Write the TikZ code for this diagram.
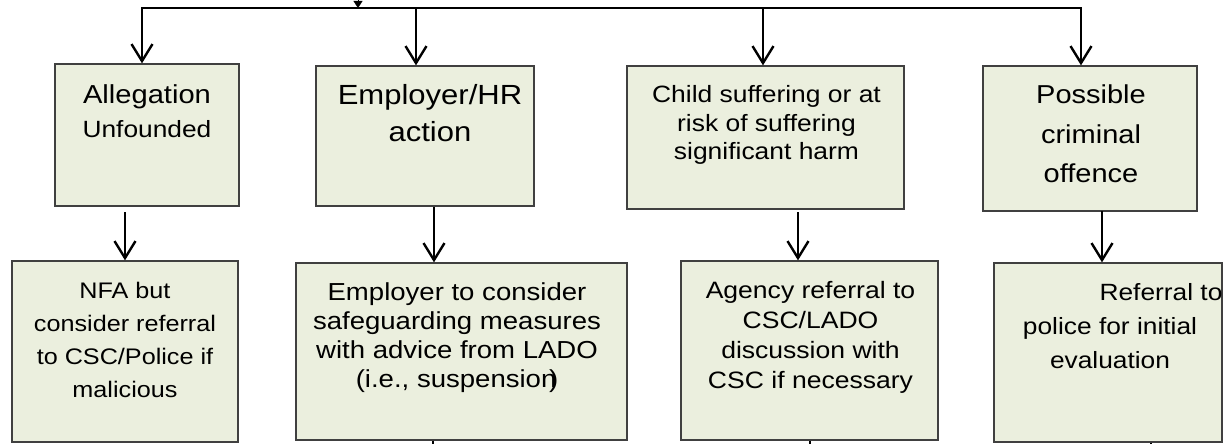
\documentclass[tikz,border=0pt]{standalone}
\usepackage{fontspec}
\setmainfont{Liberation Sans}[FakeStretch=1.12]
\usetikzlibrary{arrows.meta}
\definecolor{boxFill}{HTML}{EBEFDE}
\definecolor{boxLine}{HTML}{404040}

\begin{document}
\begin{tikzpicture}[x=1pt, y=-1pt,
  box/.style={draw=boxLine, fill=boxFill, line width=1.3pt, inner sep=0pt},
  txt/.style={align=center, inner sep=0pt},
  link/.style={line width=2.4pt},
  barb/.tip={Straight Barb[length=17pt, width=21pt]},
  arr/.style={link, -barb},
]
  \useasboundingbox (0,0) rectangle (1224,444);

  % outcome boxes
  \node[box, minimum width=184pt, minimum height=142pt] (unfounded) at (147,135) {};
  \node[box, minimum width=218pt, minimum height=140pt] (hraction) at (425,136) {};
  \node[box, minimum width=277pt, minimum height=143pt] (harm) at (765.5,137.5) {};
  \node[box, minimum width=214pt, minimum height=145pt] (criminal) at (1090,138.5) {};

  \node[txt, font=\fontsize{23.5}{34}\selectfont] (unfounded-t) at (147,111)
    {{\fontsize{26}{34}\selectfont Allegation}\\Unfounded};
  \node[txt, font=\fontsize{27.7}{37}\selectfont] (hraction-t) at (430,113.5)
    {Employer/HR\\action};
  \node[txt, font=\fontsize{23.6}{28.5}\selectfont] (harm-t) at (766.5,125)
    {Child suffering or at\\risk of suffering\\significant harm};
  \node[txt, font=\fontsize{25.9}{39.5}\selectfont] (criminal-t) at (1091,134)
    {Possible\\criminal\\offence};

  % action boxes
  \node[box, minimum width=226pt, minimum height=181pt] (nfa) at (125,351.5) {};
  \node[box, minimum width=331pt, minimum height=177pt] (safeguard) at (461.5,351.5) {};
  \node[box, minimum width=257pt, minimum height=179pt] (agency) at (809.5,350.5) {};
  \node[box, minimum width=228pt, minimum height=179pt] (police) at (1108,352.5) {};

  \node[txt, font=\fontsize{22.5}{33}\selectfont] (nfa-t) at (125,340)
    {NFA but\\consider referral\\to CSC/Police if\\malicious};
  \node[txt, font=\fontsize{24.6}{29}\selectfont] (safeguard-t) at (457,338)
    {Employer to consider\\safeguarding measures\\with advice from LADO\\(i.e., suspension\kern-.3em)};
  \node[txt, font=\fontsize{23.7}{30}\selectfont] (agency-t) at (810.5,337.5)
    {Agency referral to\\CSC/LADO\\discussion with\\CSC if necessary};
  \node[txt, font=\fontsize{23.5}{34}\selectfont] (police-t) at (1110,326)
    {\hspace*{102pt}Referral to\\police for initial\\evaluation};

  % top feed and branches
  \coordinate (feed) at (358,0);
  \coordinate (feedtip) at (358,8);
  \coordinate (j1) at (142,8);
  \coordinate (j2) at (416,8);
  \coordinate (j3) at (763,8);
  \coordinate (j4) at (1081,8);
  \draw[link, barb-barb] (j1 |- unfounded.north) -- (j1) -- (j4) -- (j4 |- criminal.north);
  \draw[-{Triangle[length=7pt, width=9pt]}] (feed) -- (feedtip);
  \draw[arr] (j2) -- (j2 |- hraction.north);
  \draw[arr] (j3) -- (j3 |- harm.north);

  % down arrows
  \coordinate (d1) at (125,212);
  \coordinate (d2) at (434,207);
  \coordinate (d3) at (798,212);
  \coordinate (d4) at (1102,211);
  \foreach \d/\b in {d1/nfa, d2/safeguard, d3/agency, d4/police}
    \draw[arr] (\d) -- (\d |- \b.north);

  % stubs leaving the page
  \coordinate (s2) at (433,444);
  \coordinate (s3) at (810,444);
  \coordinate (s4) at (1151,444);
  \draw[link] (s2 |- safeguard.south) -- (s2);
  \draw[link] (s3 |- agency.south) -- (s3);
  \draw[link] (s4 |- police.south) -- (s4);
\end{tikzpicture}
\end{document}
